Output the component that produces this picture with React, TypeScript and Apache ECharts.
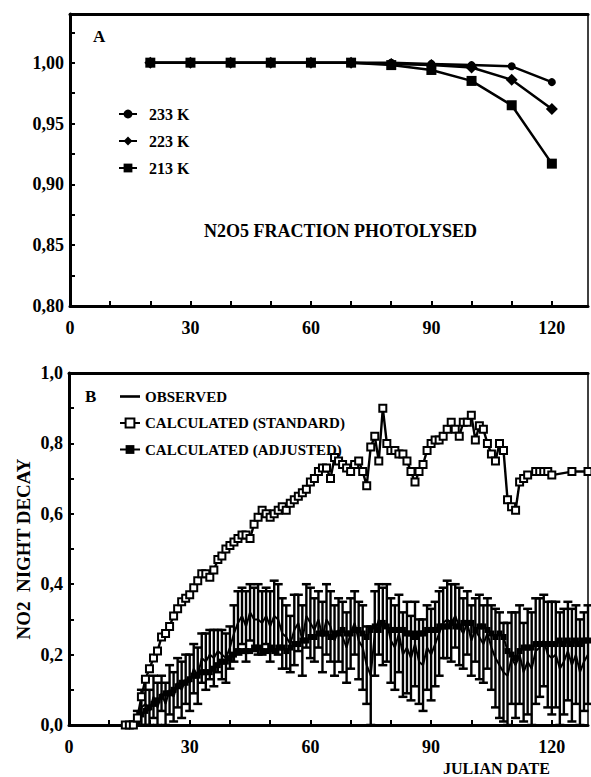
import React, { useEffect, useRef } from "react";
import * as echarts from "echarts";

// ---------- Panel A: N2O5 fraction photolysed ----------
const a233: [number, number][] = [
  [20, 1.0], [30, 1.0], [40, 1.0], [50, 1.0], [60, 1.0], [70, 1.0],
  [80, 1.0], [90, 0.999], [100, 0.998], [110, 0.997], [120, 0.984],
];
const a223: [number, number][] = [
  [20, 1.0], [30, 1.0], [40, 1.0], [50, 1.0], [60, 1.0], [70, 1.0],
  [80, 0.999], [90, 0.998], [100, 0.996], [110, 0.986], [120, 0.962],
];
const a213: [number, number][] = [
  [20, 1.0], [30, 1.0], [40, 1.0], [50, 1.0], [60, 1.0], [70, 1.0],
  [80, 0.998], [90, 0.994], [100, 0.985], [110, 0.965], [120, 0.917],
];

// ---------- Panel B: NO2 night decay ----------
// [day, value, error half-width]
const observed: [number, number, number][] = [
  [15, 0.0, 0.0], [16, 0.0, 0.01], [17, 0.01, 0.03], [18, 0.05, 0.05], [19, 0.06, 0.07],
  [20, 0.04, 0.06], [21, 0.08, 0.06], [22, 0.05, 0.07], [23, 0.09, 0.05], [24, 0.06, 0.06],
  [25, 0.1, 0.07], [26, 0.08, 0.07], [27, 0.12, 0.07], [28, 0.1, 0.08], [29, 0.13, 0.07],
  [30, 0.12, 0.08], [31, 0.16, 0.07], [32, 0.14, 0.08], [33, 0.19, 0.07], [34, 0.18, 0.08],
  [35, 0.2, 0.07], [36, 0.19, 0.08], [37, 0.21, 0.06], [38, 0.2, 0.07], [39, 0.19, 0.07],
  [40, 0.22, 0.06], [41, 0.26, 0.08], [42, 0.29, 0.09], [43, 0.31, 0.08], [44, 0.28, 0.1],
  [45, 0.32, 0.08], [46, 0.3, 0.09], [47, 0.3, 0.1], [48, 0.29, 0.09], [49, 0.31, 0.08],
  [50, 0.28, 0.1], [51, 0.31, 0.1], [52, 0.3, 0.1], [53, 0.26, 0.1], [54, 0.25, 0.09],
  [55, 0.23, 0.08], [56, 0.27, 0.1], [57, 0.29, 0.08], [58, 0.24, 0.1], [59, 0.31, 0.09],
  [60, 0.29, 0.1], [61, 0.27, 0.09], [62, 0.3, 0.08], [63, 0.25, 0.1], [64, 0.3, 0.1],
  [65, 0.28, 0.1], [66, 0.24, 0.1], [67, 0.27, 0.09], [68, 0.25, 0.1], [69, 0.22, 0.1],
  [70, 0.26, 0.1], [71, 0.29, 0.09], [72, 0.24, 0.11], [73, 0.22, 0.12], [74, 0.17, 0.11],
  [75, 0.14, 0.14], [76, 0.26, 0.12], [77, 0.3, 0.1], [78, 0.28, 0.11], [79, 0.29, 0.11],
  [80, 0.24, 0.12], [81, 0.22, 0.12], [82, 0.26, 0.11], [83, 0.2, 0.12], [84, 0.22, 0.13],
  [85, 0.19, 0.12], [86, 0.23, 0.12], [87, 0.18, 0.12], [88, 0.17, 0.13], [89, 0.22, 0.12],
  [90, 0.2, 0.13], [91, 0.23, 0.12], [92, 0.26, 0.12], [93, 0.29, 0.1], [94, 0.3, 0.11],
  [95, 0.29, 0.11], [96, 0.31, 0.09], [97, 0.28, 0.11], [98, 0.26, 0.1], [99, 0.29, 0.09],
  [100, 0.24, 0.1], [101, 0.27, 0.09], [102, 0.25, 0.12], [103, 0.23, 0.11], [104, 0.26, 0.1],
  [105, 0.22, 0.12], [106, 0.19, 0.14], [107, 0.17, 0.15], [108, 0.15, 0.14], [109, 0.14, 0.15],
  [110, 0.19, 0.13], [111, 0.17, 0.15], [112, 0.2, 0.14], [113, 0.15, 0.14], [114, 0.18, 0.15],
  [115, 0.16, 0.16], [116, 0.21, 0.15], [117, 0.22, 0.14], [118, 0.24, 0.13], [119, 0.2, 0.15],
  [120, 0.19, 0.16], [121, 0.2, 0.15], [122, 0.16, 0.16], [123, 0.18, 0.15], [124, 0.21, 0.14],
  [125, 0.17, 0.16], [126, 0.2, 0.14], [127, 0.15, 0.15], [128, 0.18, 0.14], [129, 0.2, 0.14],
];

const standard: [number, number][] = [
  [14, 0.0], [15, 0.0], [16, 0.0], [17, 0.02], [18, 0.08], [19, 0.13], [20, 0.16],
  [21, 0.19], [22, 0.21], [23, 0.25], [24, 0.26], [25, 0.28], [26, 0.31], [27, 0.33],
  [28, 0.35], [29, 0.36], [30, 0.37], [31, 0.39], [32, 0.41], [33, 0.43], [34, 0.43],
  [35, 0.42], [36, 0.44], [37, 0.47], [38, 0.48], [39, 0.5], [40, 0.51], [41, 0.52],
  [42, 0.53], [43, 0.54], [44, 0.54], [45, 0.53], [46, 0.57], [47, 0.59], [48, 0.61],
  [49, 0.6], [50, 0.59], [51, 0.6], [52, 0.61], [53, 0.62], [54, 0.61], [55, 0.63],
  [56, 0.64], [57, 0.65], [58, 0.66], [59, 0.67], [60, 0.69], [61, 0.7], [62, 0.72],
  [63, 0.73], [64, 0.73], [65, 0.7], [66, 0.76], [67, 0.75], [68, 0.74], [69, 0.73],
  [70, 0.72], [71, 0.74], [72, 0.75], [73, 0.72], [74, 0.68], [75, 0.79], [76, 0.82],
  [77, 0.75], [78, 0.9], [79, 0.8], [80, 0.78], [81, 0.78], [82, 0.77], [83, 0.77],
  [84, 0.75], [85, 0.72], [86, 0.69], [87, 0.72], [88, 0.74], [89, 0.78], [90, 0.8],
  [91, 0.81], [92, 0.81], [93, 0.82], [94, 0.84], [95, 0.86], [96, 0.84], [97, 0.82],
  [98, 0.86], [99, 0.86], [100, 0.88], [101, 0.81], [102, 0.85], [103, 0.84], [104, 0.8],
  [105, 0.77], [106, 0.75], [107, 0.8], [108, 0.78], [109, 0.64], [110, 0.62], [111, 0.61],
  [112, 0.69], [113, 0.7], [114, 0.71], [116, 0.72], [117, 0.72], [118, 0.72], [119, 0.72],
  [120, 0.71], [125, 0.72], [129, 0.72],
];

const adjusted: [number, number][] = [
  [16, 0.0], [17, 0.01], [18, 0.03], [19, 0.04], [20, 0.05], [21, 0.06], [22, 0.07],
  [23, 0.08], [24, 0.09], [25, 0.09], [26, 0.1], [27, 0.11], [28, 0.12], [29, 0.12],
  [30, 0.13], [31, 0.14], [32, 0.14], [33, 0.15], [34, 0.15], [35, 0.15], [36, 0.16],
  [37, 0.17], [38, 0.18], [39, 0.18], [40, 0.19], [41, 0.2], [42, 0.21], [43, 0.21],
  [44, 0.21], [45, 0.21], [46, 0.22], [47, 0.22], [48, 0.21], [49, 0.21], [50, 0.22],
  [51, 0.21], [52, 0.22], [53, 0.22], [54, 0.21], [55, 0.22], [56, 0.23], [57, 0.23],
  [58, 0.24], [59, 0.24], [60, 0.25], [61, 0.25], [62, 0.26], [63, 0.26], [64, 0.26],
  [65, 0.25], [66, 0.26], [67, 0.26], [68, 0.27], [69, 0.26], [70, 0.26], [71, 0.27],
  [72, 0.27], [73, 0.26], [74, 0.25], [75, 0.27], [76, 0.28], [77, 0.27], [78, 0.29],
  [79, 0.28], [80, 0.27], [81, 0.27], [82, 0.27], [83, 0.27], [84, 0.26], [85, 0.26],
  [86, 0.25], [87, 0.26], [88, 0.26], [89, 0.27], [90, 0.27], [91, 0.27], [92, 0.28],
  [93, 0.28], [94, 0.28], [95, 0.29], [96, 0.28], [97, 0.28], [98, 0.29], [99, 0.29],
  [100, 0.29], [101, 0.27], [102, 0.28], [103, 0.28], [104, 0.27], [105, 0.26], [106, 0.25],
  [107, 0.26], [108, 0.25], [109, 0.21], [110, 0.2], [111, 0.19], [112, 0.21], [113, 0.22],
  [114, 0.22], [115, 0.22], [116, 0.23], [117, 0.23], [118, 0.23], [119, 0.23], [120, 0.23],
  [121, 0.23], [122, 0.24], [123, 0.23], [124, 0.24], [125, 0.23], [126, 0.24], [127, 0.23],
  [128, 0.24], [129, 0.24],
];

const FONT = '"Liberation Serif", "Times New Roman", serif';
const BLACK = "#000";

const isMult = (v: number, step: number) => Math.abs(v / step - Math.round(v / step)) < 1e-6;

function bottomAxis(gridIndex: number) {
  return {
    type: "value",
    gridIndex,
    min: 0,
    max: 129,
    interval: 10,
    axisLine: { onZero: false, lineStyle: { color: BLACK, width: 3 } },
    axisTick: { inside: true, length: 5, lineStyle: { color: BLACK, width: 2 } },
    axisLabel: {
      color: BLACK,
      fontFamily: FONT,
      fontWeight: "bold",
      fontSize: 18,
      margin: 13,
      showMaxLabel: false,
      formatter: (v: number) => (isMult(v, 30) ? String(v) : ""),
    },
    splitLine: { show: false },
  };
}
function topAxis(gridIndex: number) {
  return {
    type: "value",
    gridIndex,
    position: "top",
    min: 0,
    max: 129,
    axisLine: { onZero: false, lineStyle: { color: BLACK, width: 3 } },
    axisTick: { show: false },
    axisLabel: { show: false },
    splitLine: { show: false },
  };
}
function rightAxis(gridIndex: number, min: number, max: number) {
  return {
    type: "value",
    gridIndex,
    position: "right",
    min,
    max,
    axisLine: { show: true, onZero: false, lineStyle: { color: BLACK, width: 1.5 } },
    axisTick: { show: false },
    axisLabel: { show: false },
    splitLine: { show: false },
  };
}

export default function App() {
  const ref = useRef<HTMLDivElement>(null);

  useEffect(() => {
    if (!ref.current) return;
    const chart = echarts.init(ref.current, undefined, { renderer: "svg" });

    const errorData = observed.map(([d, v, e]) => [d, Math.max(0, v - e), v + e]);

    const option: any = {
      animation: false,
      backgroundColor: "#fff",
      grid: [
        { left: 70, top: 14, width: 518, height: 292 },
        { left: 69, top: 373, width: 519, height: 352 },
      ],
      xAxis: [bottomAxis(0), topAxis(0), bottomAxis(1), topAxis(1)],
      yAxis: [
        {
          type: "value",
          gridIndex: 0,
          min: 0.8,
          max: 1.04,
          interval: 0.025,
          axisLine: { show: true, onZero: false, lineStyle: { color: BLACK, width: 3 } },
          axisTick: { show: true, inside: true, length: 5, lineStyle: { color: BLACK, width: 2 } },
          axisLabel: {
            color: BLACK,
            fontFamily: FONT,
            fontWeight: "bold",
            fontSize: 18,
            margin: 6,
            formatter: (v: number) => (isMult(v, 0.05) ? v.toFixed(2).replace(".", ",") : ""),
          },
          splitLine: { show: false },
        },
        rightAxis(0, 0.8, 1.04),
        {
          type: "value",
          gridIndex: 1,
          min: 0,
          max: 1,
          interval: 0.1,
          name: "NO2  NIGHT DECAY",
          nameLocation: "middle",
          nameGap: 36,
          nameRotate: 90,
          nameMoveOverlap: false,
          nameTextStyle: { color: BLACK, fontFamily: FONT, fontWeight: "bold", fontSize: 19 },
          axisLine: { show: true, onZero: false, lineStyle: { color: BLACK, width: 3 } },
          axisTick: { show: true, inside: true, length: 5, lineStyle: { color: BLACK, width: 2 } },
          axisLabel: {
            color: BLACK,
            fontFamily: FONT,
            fontWeight: "bold",
            fontSize: 18,
            margin: 6,
            formatter: (v: number) => (isMult(v, 0.2) ? v.toFixed(1).replace(".", ",") : ""),
          },
          splitLine: { show: false },
        },
        rightAxis(1, 0, 1),
      ],
      legend: [
        {
          data: ["233 K", "223 K", "213 K"],
          orient: "vertical",
          left: 113,
          top: 101,
          itemWidth: 18,
          itemHeight: 11,
          itemGap: 11,
          textStyle: { color: BLACK, fontFamily: FONT, fontWeight: "bold", fontSize: 16, padding: [0, 0, 0, 7] },
        },
        {
          data: [
            { name: "OBSERVED", icon: "path://M0,0L20,0L20,2.6L0,2.6Z" },
            "CALCULATED (STANDARD)",
            "CALCULATED (ADJUSTED)",
          ],
          orient: "vertical",
          left: 114,
          top: 384,
          itemWidth: 20,
          itemHeight: 11,
          itemGap: 11.5,
          textStyle: { color: BLACK, fontFamily: FONT, fontWeight: "bold", fontSize: 15, padding: [0, 0, 0, 0] },
        },
      ],
      graphic: [
        { type: "text", x: 93, y: 28, style: { text: "A", fill: BLACK, font: `bold 17px ${FONT}` } },
        { type: "text", x: 85, y: 388, style: { text: "B", fill: BLACK, font: `bold 17px ${FONT}` } },
        {
          type: "text",
          x: 204,
          y: 222,
          style: { text: "N2O5 FRACTION PHOTOLYSED", fill: BLACK, font: `bold 18px ${FONT}` },
        },
        {
          type: "text",
          x: 443,
          y: 760,
          style: { text: "JULIAN DATE", fill: BLACK, font: `bold 16px ${FONT}` },
        },
      ],
      series: [
        {
          name: "233 K",
          type: "line",
          xAxisIndex: 0,
          yAxisIndex: 0,
          data: a233,
          symbol: "circle",
          symbolSize: 8,
          lineStyle: { color: BLACK, width: 2.5 },
          itemStyle: { color: BLACK },
          z: 3,
        },
        {
          name: "223 K",
          type: "line",
          xAxisIndex: 0,
          yAxisIndex: 0,
          data: a223,
          symbol: "diamond",
          symbolSize: 12,
          lineStyle: { color: BLACK, width: 2.5 },
          itemStyle: { color: BLACK },
          z: 3,
        },
        {
          name: "213 K",
          type: "line",
          xAxisIndex: 0,
          yAxisIndex: 0,
          data: a213,
          symbol: "rect",
          symbolSize: 10,
          lineStyle: { color: BLACK, width: 2.5 },
          itemStyle: { color: BLACK },
          z: 3,
        },
        {
          name: "obs-error",
          type: "custom",
          xAxisIndex: 2,
          yAxisIndex: 2,
          data: errorData,
          encode: { x: 0, y: [1, 2] },
          z: 2,
          renderItem: (params: any, api: any) => {
            const x = api.value(0);
            const lo = api.value(1);
            const hi = api.value(2);
            const pHi = api.coord([x, hi]);
            const pLo = api.coord([x, lo]);
            const hw = 4.5;
            return {
              type: "group",
              children: [
                {
                  type: "line",
                  shape: { x1: pHi[0], y1: pHi[1], x2: pLo[0], y2: pLo[1] },
                  style: { stroke: BLACK, lineWidth: 2.4 },
                },
                {
                  type: "line",
                  shape: { x1: pHi[0] - hw, y1: pHi[1], x2: pHi[0] + hw, y2: pHi[1] },
                  style: { stroke: BLACK, lineWidth: 2.5 },
                },
                {
                  type: "line",
                  shape: { x1: pLo[0] - hw, y1: pLo[1], x2: pLo[0] + hw, y2: pLo[1] },
                  style: { stroke: BLACK, lineWidth: 2.5 },
                },
              ],
            };
          },
        },
        {
          name: "OBSERVED",
          type: "line",
          xAxisIndex: 2,
          yAxisIndex: 2,
          data: observed.map(([d, v]) => [d, v]),
          symbol: "none",
          lineStyle: { color: BLACK, width: 2 },
          itemStyle: { color: BLACK },
          z: 3,
        },
        {
          name: "CALCULATED (ADJUSTED)",
          type: "line",
          xAxisIndex: 2,
          yAxisIndex: 2,
          data: adjusted,
          symbol: "rect",
          symbolSize: 6,
          lineStyle: { color: BLACK, width: 2 },
          itemStyle: { color: BLACK },
          z: 4,
        },
        {
          name: "CALCULATED (STANDARD)",
          type: "line",
          xAxisIndex: 2,
          yAxisIndex: 2,
          data: standard,
          symbol: "rect",
          symbolSize: 7,
          lineStyle: { color: BLACK, width: 2.4 },
          itemStyle: { color: "#fff", borderColor: BLACK, borderWidth: 2 },
          z: 5,
        },
      ],
    };

    chart.setOption(option);
    return () => chart.dispose();
  }, []);

  return (
    <div
      ref={ref}
      style={{ position: "fixed", left: 0, top: 0, width: 591, height: 777, background: "#fff" }}
    />
  );
}
